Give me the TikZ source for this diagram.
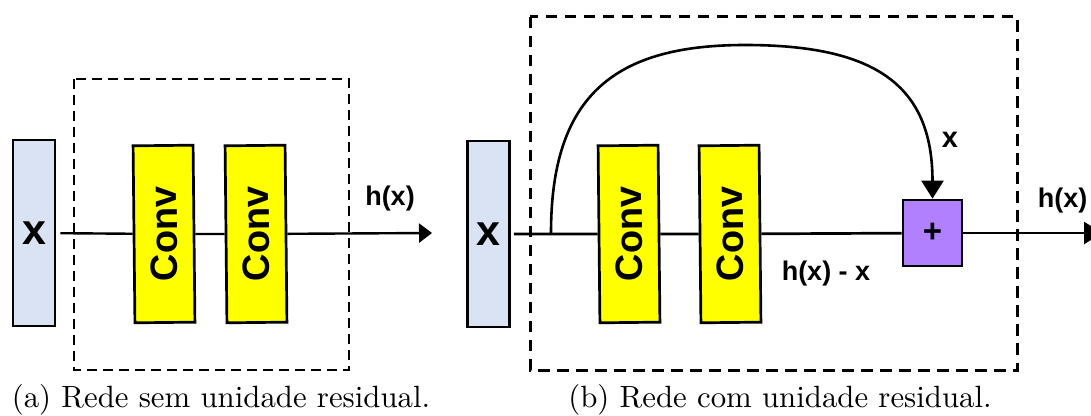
\documentclass[tikz,border=0pt]{standalone}
\usepackage{fontspec}
\usepackage{tikz}
\usetikzlibrary{arrows.meta, positioning}
\newfontfamily\arial{Liberation Sans}
\definecolor{inblue}{RGB}{218,227,243}
\definecolor{convyellow}{RGB}{255,255,0}
\definecolor{sumpurple}{RGB}{176,128,255}

\begin{document}
\begin{tikzpicture}[x=0.5pt, y=-0.5pt, semithick]
    \tikzstyle{input}=[shape=rectangle, draw=black, line width=1.4pt, fill=inblue, minimum width=21pt, minimum height=93pt, inner sep=0pt, font=\arial\bfseries\fontsize{21.5}{21.5}\selectfont]
    \tikzstyle{conv}=[shape=rectangle, draw=black, line width=1.35pt, fill=convyellow, minimum width=88.5pt, minimum height=30pt, inner sep=0pt, rotate=90.6, font=\arial\bfseries\fontsize{19}{19}\selectfont]
    \tikzstyle{sum}=[shape=rectangle, draw=black, line width=1.35pt, fill=sumpurple, minimum width=29.5pt, minimum height=33pt, inner sep=0pt, font=\arial\bfseries\fontsize{16.5}{16.5}\selectfont]
    \tikzstyle{lbl}=[inner sep=0pt, font=\arial\bfseries\fontsize{13.5}{13.5}\selectfont]
    \tikzstyle{caption}=[inner sep=0pt, anchor=base, font=\fontsize{10}{12}\selectfont]
    \tikzstyle{flowa}=[line width=1.2pt, -{Triangle[length=6.5pt, width=9.5pt]}]
    \tikzstyle{flowb}=[line width=1.35pt, -{Triangle[length=9pt, width=11pt]}]

    \useasboundingbox (0,0) rectangle (1091,416);

    % (a) plain block
    \draw[line width=1pt, dash pattern=on 5pt off 3pt] (74,79) rectangle (349,370);
    \node[input] (xa)  at (34,233)  {x};
    \node[conv]  (ca1) at (164,234) {Conv};
    \node[conv]  (ca2) at (256,234) {Conv};
    \coordinate  (outa) at (432,233);
    \node[lbl]   (ha)  at (390,199) {h(x)};

    \path[line width=1.2pt]
    (xa)    edge[shorten <=2pt]  (ca1)
    (ca1)   edge                 (ca2)
    (ca2)   edge[flowa]          (outa)
            ;

    % (b) residual block
    \draw[line width=1.5pt, dash pattern=on 5.75pt off 3.75pt] (530,17) rectangle (1017,370);
    \node[input] (xb)  at (488.5,234) {x};
    \node[conv]  (cb1) at (629,234)   {Conv};
    \node[conv]  (cb2) at (730,234)   {Conv};
    \node[sum]   (sb)  at (932.5,233) {+};
    \coordinate  (split) at (551,233);
    \coordinate  (arch)  at (745,45);
    \coordinate  (outb)  at (1102,233);
    \node[lbl]   (lx)  at (950,140)   {\fontsize{14.5}{14.5}\selectfont x};
    \node[lbl]   (lres) at (826,273.5) {h(x) - x};
    \node[lbl]   (hb)  at (1062.5,200.5) {h(x)};

    \path[line width=1.35pt]
    (xb)    edge[shorten <=1.5pt] (cb1)
    (cb1)   edge                  (cb2)
    (cb2)   edge                  (sb)
    (sb)    edge[flowb]           (outb)
            ;
    \draw[line width=1.3pt, -{Triangle[length=9pt, width=11pt]}]
        (split) .. controls (551,95) and (615,45) .. (arch)
                .. controls (875,45) and (932.5,85) .. (sb.north);

    \node[caption] (capa) at (221,408) {\scalebox{1.54}{(a) Rede sem unidade residual.}};
    \node[caption] (capb) at (780,408) {\scalebox{1.54}{(b) Rede com unidade residual.}};
\end{tikzpicture}
\end{document}
